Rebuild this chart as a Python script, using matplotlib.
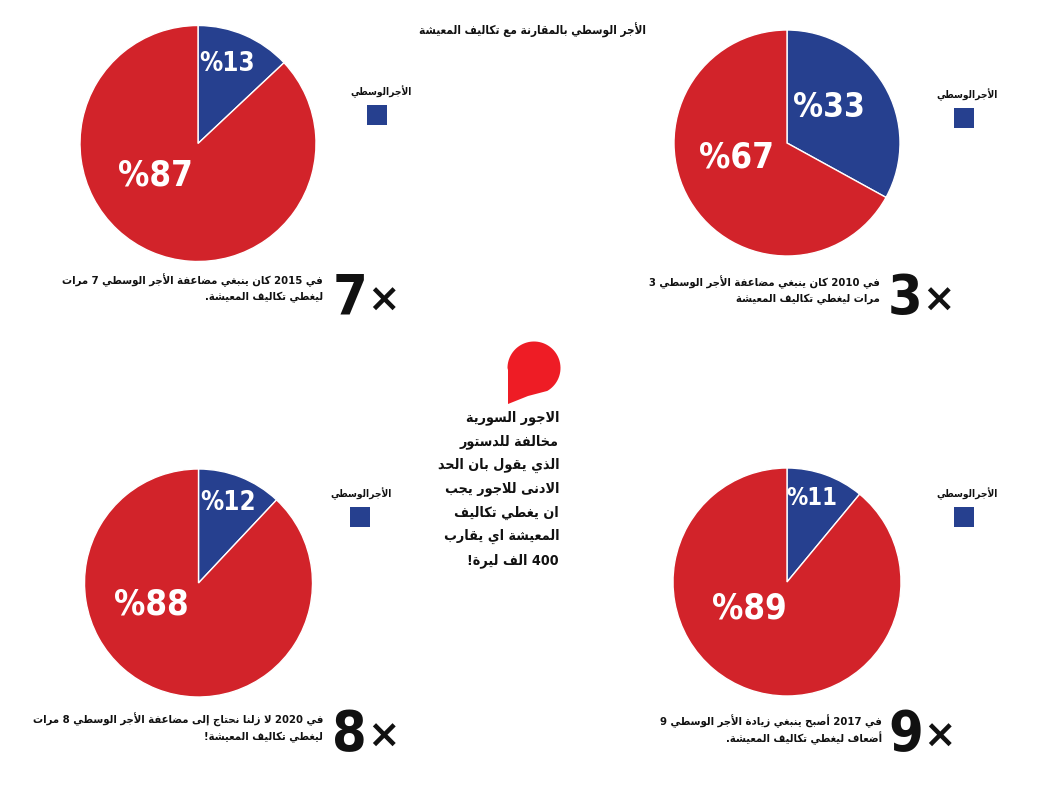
import re
import numpy as np
import matplotlib
matplotlib.use("Agg")
import matplotlib.pyplot as plt
from matplotlib.patches import Rectangle, PathPatch
from matplotlib.path import Path

# --- data -------------------------------------------------------------
years = [2010, 2015, 2017, 2020]
wage_share = [33, 13, 11, 12]      # blue slice: median wage
cost_share = [67, 87, 89, 88]      # red slice: rest of living cost
multipliers = [3, 7, 9, 8]
captions = [
    ["في 2010 كان ينبغي مضاعفة الأجر الوسطي 3", "مرات ليغطي تكاليف المعيشة"],
    ["في 2015 كان ينبغي مضاعفة الأجر الوسطي 7 مرات", "ليغطي تكاليف المعيشة."],
    ["في 2017 أصبح ينبغي زيادة الأجر الوسطي 9", "أضعاف ليغطي تكاليف المعيشة."],
    ["في 2020 لا زلنا نحتاج إلى مضاعفة الأجر الوسطي 8 مرات", "ليغطي تكاليف المعيشة!"],
]
title = "الأجر الوسطي بالمقارنة مع تكاليف المعيشة"
legend_label = "الأجرالوسطي"
note_lines = ["الاجور السورية", "مخالفة للدستور", "الذي يقول بان الحد",
              "الادنى للاجور يجب", "ان يغطي تكاليف", "المعيشة اي يقارب", "400 الف ليرة!"]

BLUE = "#26408f"
RED = "#d2232a"
BUBBLE = "#ee1c25"

# --- minimal arabic shaping (presentation forms + rtl order) -----------
DUAL = {'ئ': 0xFE89, 'ب': 0xFE8F, 'ت': 0xFE95, 'ث': 0xFE99, 'ج': 0xFE9D, 'ح': 0xFEA1,
        'خ': 0xFEA5, 'س': 0xFEB1, 'ش': 0xFEB5, 'ص': 0xFEB9, 'ض': 0xFEBD, 'ط': 0xFEC1,
        'ظ': 0xFEC5, 'ع': 0xFEC9, 'غ': 0xFECD, 'ف': 0xFED1, 'ق': 0xFED5, 'ك': 0xFED9,
        'ل': 0xFEDD, 'م': 0xFEE1, 'ن': 0xFEE5, 'ه': 0xFEE9, 'ي': 0xFEF1}
RIGHT = {'آ': 0xFE81, 'أ': 0xFE83, 'ؤ': 0xFE85, 'إ': 0xFE87, 'ا': 0xFE8D, 'ة': 0xFE93,
         'د': 0xFEA9, 'ذ': 0xFEAB, 'ر': 0xFEAD, 'ز': 0xFEAF, 'و': 0xFEED, 'ى': 0xFEEF}
LAMALEF = {'آ': 0xFEF5, 'أ': 0xFEF7, 'إ': 0xFEF9, 'ا': 0xFEFB}


def ar(s):
    toks = []
    i = 0
    while i < len(s):
        if s[i] == 'ل' and i + 1 < len(s) and s[i + 1] in LAMALEF:
            toks.append(s[i:i + 2])
            i += 2
        else:
            toks.append(s[i])
            i += 1

    def joins_next(t):
        return t in DUAL

    def joins_prev(t):
        return t in DUAL or t in RIGHT or len(t) == 2

    out = []
    for k, t in enumerate(toks):
        p = k > 0 and joins_next(toks[k - 1]) and joins_prev(t)
        n = k < len(toks) - 1 and joins_next(t) and joins_prev(toks[k + 1])
        if len(t) == 2:
            out.append(chr(LAMALEF[t[1]] + (1 if p else 0)))
        elif t in DUAL:
            off = 3 if (p and n) else 1 if p else 2 if n else 0
            out.append(chr(DUAL[t] + off))
        elif t in RIGHT:
            out.append(chr(RIGHT[t] + (1 if p else 0)))
        else:
            out.append(t)
    parts = re.findall(r'[0-9]+|.', ''.join(out))
    return ''.join(reversed(parts))


AR = dict(family="DejaVu Sans", fontweight="bold", fontstretch="condensed", color="#111111")
PCT = dict(family="DejaVu Sans", fontweight="bold", fontstretch="condensed", color="white")

# --- layout (pixels) ---------------------------------------------------
W, H = 1038, 807
panels = [
    dict(c=(787, 143, 113), bl=(0.37, 0.31), rl=(-0.45, -0.13), bfs=24,
         leg=(967, 95), sq=964, cap=(880, 282), num=(897, 299)),
    dict(c=(198, 143.5, 118), bl=(0.25, 0.67), rl=(-0.36, -0.27), bfs=18.5,
         leg=(381, 92), sq=377, cap=(323, 280), num=(342, 299)),
    dict(c=(787, 582, 114), bl=(0.22, 0.74), rl=(-0.33, -0.23), bfs=17,
         leg=(967, 494), sq=964, cap=(882, 721), num=(898, 735)),
    dict(c=(198.5, 583, 114), bl=(0.26, 0.70), rl=(-0.41, -0.19), bfs=18.5,
         leg=(361, 494), sq=360, cap=(323, 720), num=(342, 735)),
]

fig = plt.figure(figsize=(W / 100, H / 100), dpi=100)
bg = fig.add_axes([0, 0, 1, 1])
bg.set_xlim(0, W)
bg.set_ylim(H, 0)
bg.axis("off")

bg.text(646, 30, ar(title), ha="right", va="center", fontsize=8.5, **AR)

for i, pnl in enumerate(panels):
    cx, cy, r = pnl["c"]
    ax = fig.add_axes([(cx - r) / W, 1 - (cy + r) / H, 2 * r / W, 2 * r / H])
    ax.pie([wage_share[i], cost_share[i]], colors=[BLUE, RED], startangle=90,
           counterclock=False, radius=1,
           wedgeprops=dict(edgecolor="white", linewidth=1))
    ax.set_xlim(-1, 1)
    ax.set_ylim(-1, 1)
    ax.set_aspect("equal")
    ax.text(*pnl["bl"], f"%{wage_share[i]}", ha="center", va="center",
            fontsize=pnl["bfs"], **PCT)
    ax.text(*pnl["rl"], f"%{cost_share[i]}", ha="center", va="center",
            fontsize=25, **PCT)

    lx, ly = pnl["leg"]
    bg.text(lx, ly, ar(legend_label), ha="center", va="center", fontsize=7.3, **AR)
    bg.add_patch(Rectangle((pnl["sq"] - 10, ly + 13), 20, 20, color=BLUE, lw=0))

    rx, ry = pnl["cap"]
    for j, line in enumerate(captions[i]):
        bg.text(rx, ry + j * 17, ar(line), ha="right", va="center", fontsize=8.1, **AR)
    nx, ny = pnl["num"]
    bg.text(nx + 25, ny, str(multipliers[i]), ha="right", va="center", fontsize=40,
            fontweight="bold", family="DejaVu Sans", fontstretch="condensed", color="#111111")
    bg.text(nx + 25, ny + 2, "\u00d7", ha="left", va="center", fontsize=28,
            fontweight="bold", family="DejaVu Sans", color="#111111")

# speech-bubble mark
bx, by, br = 534, 368, 26.5
ang = np.linspace(180, -60, 60)
pts = [(bx + br * np.cos(np.radians(a)), by - br * np.sin(np.radians(a))) for a in ang]
pts += [(528, 396), (508, 404), (508, 370)]
bubble = Path(pts + [pts[0]], [Path.MOVETO] + [Path.LINETO] * (len(pts) - 1) + [Path.CLOSEPOLY])
bg.add_patch(PathPatch(bubble, color=BUBBLE, lw=0))

for j, line in enumerate(note_lines):
    bg.text(559, 418 + j * 23.7, ar(line), ha="right", va="center", fontsize=10.3, **AR)

fig.savefig("out.png", dpi=100)
